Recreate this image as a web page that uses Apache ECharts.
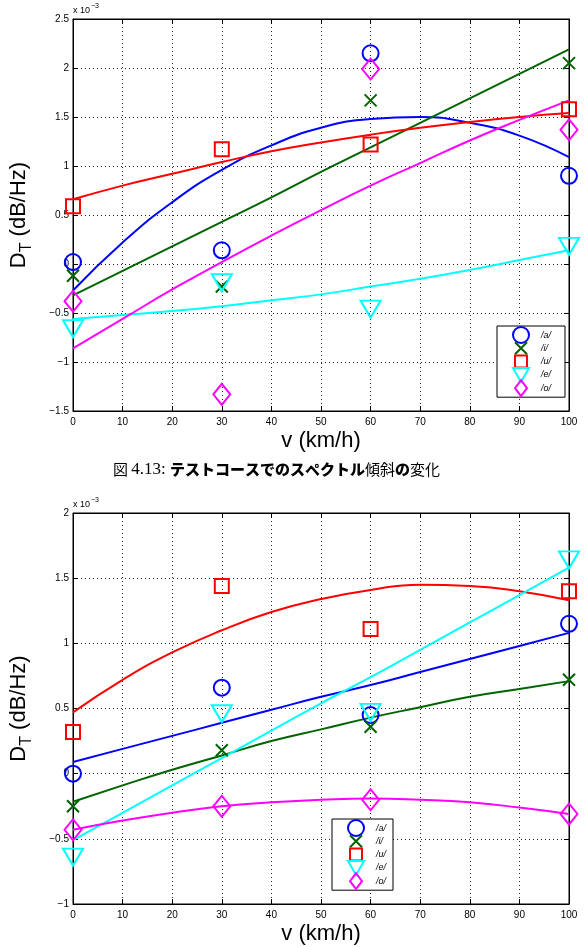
<!DOCTYPE html>
<html>
<head>
<meta charset="utf-8">
<script src="https://cdn.jsdelivr.net/npm/echarts@6/dist/echarts.min.js"></script>
<style>
html,body{margin:0;padding:0;background:#fff;}
#chart{width:588px;height:947px;}
</style>
</head>
<body>
<div id="chart"></div>
<script>
// measured speeds (km/h)
const speeds = [0, 30, 60, 100];
// speeds at which the fitted curves were read
const fitSpeeds = [0, 10, 20, 30, 40, 50, 60, 70, 80, 90, 100];
const vowels = ['/a/', '/i/', '/u/', '/e/', '/o/'];

// upper figure, D_T in units of 1e-3 dB/Hz
const topA = [0.02, 0.14, 2.15, 0.90];
const topI = [-0.12, -0.23, 1.67, 2.05];
const topU = [0.59, 1.17, 1.22, 1.58];
const topE = [-0.66, -0.19, -0.46, 0.18];
const topO = [-0.38, -1.33, 1.99, 1.37];
const topFitA = [-0.27, 0.22, 0.63, 0.96, 1.21, 1.39, 1.48, 1.50, 1.44, 1.31, 1.09];
const topFitI = [-0.32, -0.07, 0.18, 0.43, 0.68, 0.94, 1.19, 1.44, 1.69, 1.94, 2.19];
const topFitU = [0.66, 0.80, 0.92, 1.04, 1.15, 1.24, 1.32, 1.39, 1.45, 1.50, 1.54];
const topFitE = [-0.56, -0.52, -0.48, -0.43, -0.37, -0.31, -0.23, -0.15, -0.06, 0.04, 0.14];
const topFitO = [-0.86, -0.56, -0.26, 0.02, 0.29, 0.55, 0.80, 1.03, 1.26, 1.47, 1.67];

// lower figure
const botA = [0.00, 0.66, 0.45, 1.15];
const botI = [-0.25, 0.18, 0.36, 0.72];
const botU = [0.32, 1.44, 1.11, 1.40];
const botE = [-0.64, 0.46, 0.47, 1.64];
const botO = [-0.43, -0.25, -0.20, -0.31];
const botFitA = [0.09, 0.19, 0.29, 0.39, 0.49, 0.59, 0.68, 0.78, 0.88, 0.98, 1.08];
const botFitI = [-0.215, -0.09, 0.03, 0.14, 0.25, 0.34, 0.43, 0.51, 0.59, 0.65, 0.71];
const botFitU = [0.47, 0.72, 0.93, 1.10, 1.24, 1.34, 1.41, 1.45, 1.44, 1.40, 1.33];
const botFitE = [-0.51, -0.30, -0.09, 0.12, 0.33, 0.54, 0.74, 0.95, 1.16, 1.37, 1.58];
const botFitO = [-0.43, -0.36, -0.30, -0.25, -0.22, -0.20, -0.19, -0.20, -0.22, -0.26, -0.31];

const marks = [[topA, topI, topU, topE, topO], [botA, botI, botU, botE, botO]];
const fits = [[topFitA, topFitI, topFitU, topFitE, topFitO], [botFitA, botFitI, botFitU, botFitE, botFitO]];

// marker look, matlab style
const looks = [
  {color: '#0000ff', symbol: 'circle', size: 16, icon: 'circle'},
  {color: '#006400', symbol: 'path://M0,0L10,10M0,10L10,0', size: 12, icon: 'path://M0,0M16,16M2,2L14,14M2,14L14,2'},
  {color: '#ff0000', symbol: 'rect', size: 14, icon: 'path://M0,0M16,16M2,2L14,2L14,14L2,14Z'},
  {color: '#00ffff', symbol: 'path://M0,0L20,0L10,17Z', size: [20, 17], icon: 'path://M0,0M16,16M0,1L16,1L8,15Z'},
  {color: '#ff00ff', symbol: 'diamond', size: [17, 21], icon: 'path://M0,0M16,16M8,0L14,8L8,16L2,8Z'}
];

function pairs(xs, ys) {
  return xs.map((x, i) => [x, ys[i]]);
}

const font = 'Liberation Sans, Arial, sans-serif';
const grids = [
  {left: 72, top: 19, width: 497, height: 392, min: -1.5, max: 2.5, legendLeft: 497, legendTop: 326, legendPadR: 14},
  {left: 72, top: 513, width: 497, height: 391, min: -1, max: 2, legendLeft: 332, legendTop: 819, legendPadR: 7}
];

const xAxes = [], yAxes = [], series = [], legends = [];
grids.forEach((g, gi) => {
  xAxes.push({
    gridIndex: gi, type: 'value', min: 0, max: 100, interval: 10, position: 'bottom',
    name: 'v (km/h)', nameLocation: 'middle', nameGap: 19,
    nameTextStyle: {fontFamily: font, fontSize: 22, color: '#000'},
    axisLine: {onZero: false, lineStyle: {color: '#000'}},
    axisTick: {inside: true, length: 5, lineStyle: {color: '#000'}},
    axisLabel: {fontFamily: font, fontSize: 10, color: '#000', margin: 6},
    splitLine: {show: true, lineStyle: {color: '#222', type: [1, 3], width: 1}}
  });
  xAxes.push({
    gridIndex: gi, type: 'value', min: 0, max: 100, interval: 10, position: 'top',
    name: '{a|x 10}{s|−3}', nameLocation: 'start', nameGap: 0,
    nameTextStyle: {
      align: 'left', verticalAlign: 'bottom', padding: [0, 0, 4, 0],
      rich: {
        a: {fontFamily: font, fontSize: 9, color: '#000', verticalAlign: 'bottom'},
        s: {fontFamily: font, fontSize: 7, color: '#000', verticalAlign: 'bottom', padding: [0, 0, 5, 1]}
      }
    },
    axisLine: {onZero: false, lineStyle: {color: '#000'}},
    axisTick: {inside: true, length: 5, lineStyle: {color: '#000'}},
    axisLabel: {show: false},
    splitLine: {show: false}
  });
  yAxes.push({
    gridIndex: gi, type: 'value', min: g.min, max: g.max, interval: 0.5, position: 'left',
    name: '{d|D}{t|T}{d| (dB/Hz)}', nameLocation: 'middle', nameGap: 38,
    nameTextStyle: {
      rich: {
        d: {fontFamily: font, fontSize: 22, color: '#000', verticalAlign: 'bottom', padding: [0, 0, 5, 0]},
        t: {fontFamily: font, fontSize: 16, color: '#000', verticalAlign: 'bottom'}
      }
    },
    axisLine: {show: true, onZero: false, lineStyle: {color: '#000'}},
    axisTick: {show: true, inside: true, length: 5, lineStyle: {color: '#000'}},
    axisLabel: {
      fontFamily: font, fontSize: 10, color: '#000', margin: 4,
      formatter: v => String(v).replace('-', '−')
    },
    splitLine: {show: true, lineStyle: {color: '#222', type: [1, 3], width: 1}}
  });
  yAxes.push({
    gridIndex: gi, type: 'value', min: g.min, max: g.max, interval: 0.5, position: 'right',
    axisLine: {show: true, onZero: false, lineStyle: {color: '#000'}},
    axisTick: {show: true, inside: true, length: 5, lineStyle: {color: '#000'}},
    axisLabel: {show: false},
    splitLine: {show: false}
  });

  vowels.forEach((name, k) => {
    const lk = looks[k];
    series.push({
      type: 'line', name: name + ' fit', xAxisIndex: gi * 2, yAxisIndex: gi * 2,
      data: pairs(fitSpeeds, fits[gi][k]), smooth: true, showSymbol: false, silent: true,
      lineStyle: {color: lk.color, width: 2}, itemStyle: {color: lk.color}, z: 2
    });
    series.push({
      type: 'scatter', name: name, xAxisIndex: gi * 2, yAxisIndex: gi * 2,
      data: pairs(speeds, marks[gi][k]), symbol: lk.symbol, symbolSize: lk.size,
      itemStyle: {color: 'rgba(0,0,0,0)', borderColor: lk.color, borderWidth: 2, opacity: 1}, z: 3
    });
  });

  legends.push({
    orient: 'vertical', left: g.legendLeft, top: g.legendTop,
    backgroundColor: '#fff', borderColor: '#000', borderWidth: 1,
    padding: [0, g.legendPadR, 0, 15], itemWidth: 16, itemHeight: 16, itemGap: -4.7,
    selectedMode: false,
    textStyle: {fontFamily: font, fontSize: 9, fontStyle: 'italic', color: '#000', padding: [0, 0, 0, 7]},
    data: vowels.map((name, k) => ({
      name: name, icon: looks[k].icon,
      itemStyle: {color: 'rgba(0,0,0,0)', borderColor: looks[k].color, borderWidth: 2}
    }))
  });
});

const chart = echarts.init(document.getElementById('chart'));
chart.setOption({
  animation: false,
  backgroundColor: '#fff',
  title: {
    text: '{s|図 }{n|4.13: }{b|テストコースでのスペクトル}{r|傾斜}{b|の}{r|変化}',
    left: 108, top: 456,
    textStyle: {
      fontWeight: 'normal',
      rich: {
        s: {fontFamily: 'Noto Sans CJK JP', fontSize: 15, fontWeight: 'normal', color: '#000'},
        n: {fontFamily: 'Liberation Serif, DejaVu Serif, serif', fontSize: 17, fontWeight: 'normal', color: '#000'},
        b: {fontFamily: 'Noto Sans CJK JP', fontSize: 15, fontWeight: 900, color: '#000'},
        r: {fontFamily: 'Noto Sans CJK JP', fontSize: 15, fontWeight: 'normal', color: '#000'}
      }
    }
  },
  grid: grids.map(g => ({left: g.left, top: g.top, width: g.width, height: g.height,
    show: true, borderColor: '#000', borderWidth: 1, backgroundColor: '#fff'})),
  xAxis: xAxes,
  yAxis: yAxes,
  legend: legends,
  series: series
});
</script>
</body>
</html>
